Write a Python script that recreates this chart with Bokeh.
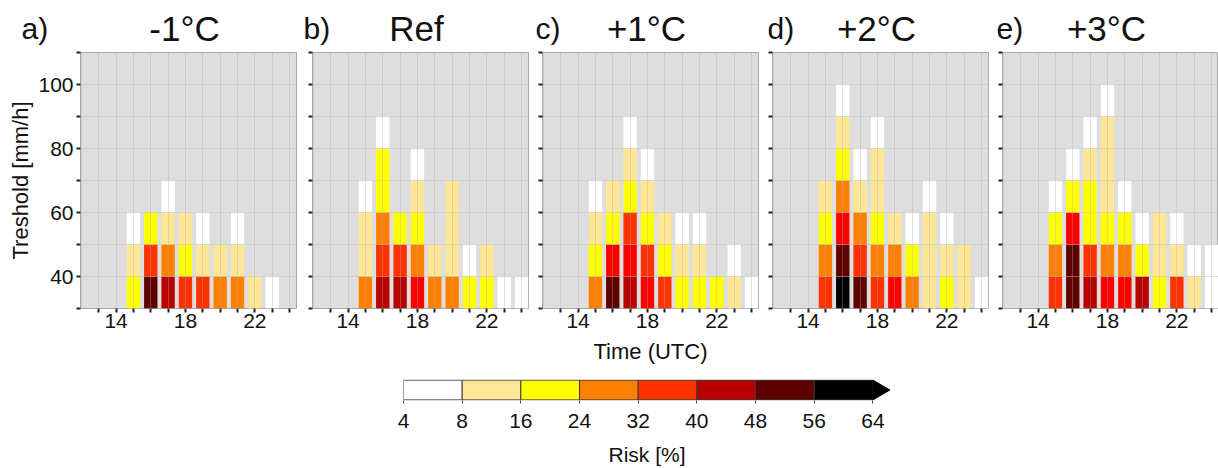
from bokeh.plotting import figure
from bokeh.models import ColumnDataSource, FixedTicker, LinearColorMapper, Range1d
from bokeh.layouts import row, column
from bokeh.transform import transform
from bokeh.core.properties import value
from bokeh.embed import file_html
from bokeh.resources import INLINE

# ---------------- data ----------------
hours = [15, 16, 17, 18, 19, 20, 21, 22, 23, 24]
thresholds = [30, 40, 50, 60, 70, 80, 90, 100]   # lower edge of each threshold class [mm/h]

panel_letters = ["a)", "b)", "c)", "d)", "e)"]
panel_titles = ["-1°C", "Ref", "+1°C", "+2°C", "+3°C"]

# risk [%] for each hour, listed from the lowest threshold class upward
risk_minus1 = [
    [20, 12, 6],
    [52, 35, 20],
    [45, 28, 12, 6],
    [35, 20, 12],
    [35, 12, 6],
    [28, 12],
    [28, 12, 6],
    [12],
    [6],
    [],
]
risk_ref = [
    [28, 12, 12, 6],
    [45, 35, 28, 20, 20, 6],
    [45, 35, 20],
    [40, 28, 20, 12, 6],
    [28, 12],
    [28, 12, 12, 12],
    [20, 6],
    [20, 12],
    [6],
    [6],
]
risk_plus1 = [
    [28, 20, 12, 6],
    [52, 40, 20, 12],
    [45, 40, 35, 20, 12, 6],
    [40, 35, 20, 12, 6],
    [35, 20, 12],
    [20, 12, 6],
    [20, 12, 6],
    [20],
    [12, 6],
    [6],
]
risk_plus2 = [
    [35, 28, 20, 12],
    [60, 52, 40, 28, 20, 12, 6],
    [52, 35, 28, 12, 6],
    [35, 28, 20, 12, 12, 6],
    [40, 28, 12],
    [28, 20, 6],
    [12, 12, 12, 6],
    [20, 12, 6],
    [12, 12],
    [6],
]
risk_plus3 = [
    [35, 28, 20, 6],
    [52, 52, 40, 20, 6],
    [45, 35, 20, 20, 12, 6],
    [40, 28, 20, 12, 12, 12, 6],
    [40, 28, 20, 6],
    [45, 20, 6],
    [20, 12, 12],
    [35, 12, 6],
    [12, 6],
    [6, 6],
]
panel_risks = [risk_minus1, risk_ref, risk_plus1, risk_plus2, risk_plus3]

risk_bounds = [4, 8, 16, 24, 32, 40, 48, 56, 64]

# colour classes (risk %) used for the tiles
class_edges = [4, 8, 16, 24, 32, 38, 42, 48, 56, 64]
class_colors = ["#FFFFFF", "#FDE696", "#FFFF00", "#FF8000", "#FF3300",
                "#FF0000", "#B80000", "#5E0000", "#000000"]

# ---------------- styling ----------------
FONT = "Liberation Sans"
TXT = "#111111"
STEP = 2
palette = []
for lo, hi, c in zip(class_edges[:-1], class_edges[1:], class_colors):
    palette += [c] * ((hi - lo) // STEP)
mapper = LinearColorMapper(palette=palette, low=class_edges[0], high=class_edges[-1],
                           high_color="#000000", low_color="#FFFFFF")

PAGE_W = 1218
PPX = 17.35          # pixels per hour
X_LO = 11.95
Y_LO, Y_HI = 30, 110
FRAME_H = 256
HEADER_H = 50
TOP_B, BOT_B = 2, 60
frame_ws = [216, 216, 216, 216, 216]
left_bs = [80, 5, 5, 5, 5]
right_bs = [11, 9, 9, 9, 0]
letter_dx = [-59, -9, -7, -5, -6]   # px from frame left
title_dx = -4                        # px from frame centre

frame_lefts = []
acc = 0
for lb, fw, rb in zip(left_bs, frame_ws, right_bs):
    frame_lefts.append(acc + lb)
    acc += lb + fw + rb

# ---------------- header (panel letters and titles) ----------------
hdr = figure(width=PAGE_W, height=HEADER_H, x_range=Range1d(0, PAGE_W), y_range=Range1d(HEADER_H, 0),
             min_border_left=0, min_border_right=0, min_border_top=0, min_border_bottom=0,
             toolbar_location=None, output_backend="svg")
hdr.axis.visible = False
hdr.grid.visible = False
hdr.outline_line_color = None
base_y = 28
hdr.text(x=[fl + dx for fl, dx in zip(frame_lefts, letter_dx)], y=[base_y] * 5, text=panel_letters,
         text_font=value(FONT), text_font_size=value("30px"), text_color=TXT,
         text_baseline="alphabetic", text_align="left")
hdr.text(x=[fl + fw / 2 + title_dx for fl, fw in zip(frame_lefts, frame_ws)], y=[base_y] * 5,
         text=panel_titles, text_font=value(FONT), text_font_size=value("35px"), text_color=TXT,
         text_baseline="alphabetic", text_align="center")

# ---------------- panels ----------------
figs = []
for i, risk in enumerate(panel_risks):
    fw = frame_ws[i]
    x_hi = X_LO + fw / PPX
    p = figure(width=left_bs[i] + fw + right_bs[i], height=TOP_B + FRAME_H + BOT_B,
               x_range=Range1d(X_LO, x_hi), y_range=Range1d(Y_LO, Y_HI),
               min_border_left=left_bs[i], min_border_right=right_bs[i],
               min_border_top=TOP_B, min_border_bottom=BOT_B,
               toolbar_location=None, output_backend="svg")
    xs, bots, tops, vals = [], [], [], []
    for h, col in zip(hours, risk):
        for t, v in zip(thresholds, col):
            xs.append(h)
            bots.append(t)
            tops.append(t + 10)
            vals.append(v)
    src = ColumnDataSource(dict(x=xs, bottom=bots, top=tops, risk=vals))
    p.vbar(x="x", bottom="bottom", top="top", width=0.77, source=src,
           fill_color=transform("risk", mapper), line_color=None)

    p.background_fill_color = "#DEDEDE"
    p.border_fill_color = "white"
    p.outline_line_color = "#A8A8A8"
    p.xgrid.ticker = FixedTicker(ticks=list(range(12, 25)))
    p.ygrid.ticker = FixedTicker(ticks=list(range(30, 111, 10)))
    for g in (p.xgrid[0], p.ygrid[0]):
        g.grid_line_color = "#B0B0B0"
        g.grid_line_alpha = 0.35
        g.grid_line_width = 1
        g.level = "overlay"

    xa = p.xaxis[0]
    xa.ticker = FixedTicker(ticks=list(range(13, 25)))
    xa.major_label_overrides = {h: (str(h) if h in (14, 18, 22) else "") for h in range(13, 25)}
    ya = p.yaxis[0]
    ya.ticker = FixedTicker(ticks=list(range(30, 111, 10)))
    if i == 0:
        ya.major_label_overrides = {t: (str(t) if t in (40, 60, 80, 100) else "") for t in range(30, 111, 10)}
        ya.axis_label = "Treshold [mm/h]"
    else:
        ya.major_label_overrides = {t: "" for t in range(30, 111, 10)}
    if i == 2:
        xa.axis_label = "Time (UTC)"
    for ax in (xa, ya):
        ax.axis_line_color = None
        ax.major_tick_out = 4
        ax.major_tick_in = 0
        ax.major_tick_line_width = 2
        ax.major_tick_line_color = "#222222"
        ax.minor_tick_line_color = None
        ax.major_label_standoff = 1
        ax.major_label_text_font = FONT
        ax.major_label_text_font_size = "21px"
        ax.major_label_text_color = TXT
        ax.axis_label_text_font = FONT
        ax.axis_label_text_font_size = "22px"
        ax.axis_label_text_font_style = "normal"
        ax.axis_label_text_color = TXT
    ya.major_label_standoff = 3
    ya.axis_label_standoff = 2
    xa.axis_label_standoff = 8
    figs.append(p)

# ---------------- colour bar ----------------
n = len(risk_bounds) - 1
CB_TOP = 11
CB_H = 21
cb_height = 468 - HEADER_H - (TOP_B + FRAME_H + BOT_B)
cb_left = 403
cb_w = 487
cb = figure(width=PAGE_W, height=cb_height, x_range=Range1d(0, n + 0.3), y_range=Range1d(-0.03, 1.03),
            min_border_left=cb_left, min_border_right=PAGE_W - cb_left - cb_w,
            min_border_top=CB_TOP, min_border_bottom=cb_height - CB_TOP - CB_H,
            toolbar_location=None, output_backend="svg")
mids = [(a + b) / 2 for a, b in zip(risk_bounds[:-1], risk_bounds[1:])]
csrc = ColumnDataSource(dict(left=list(range(n)), right=list(range(1, n + 1)), mid=mids))
cb.quad(left="left", right="right", bottom=0, top=1, source=csrc,
        fill_color=transform("mid", mapper), line_color="#3A3A3A", line_width=1)
cb.patch(x=[n, n + 0.29, n], y=[0, 0.5, 1], fill_color="#000000", line_color="#000000")
cb.background_fill_color = "white"
cb.outline_line_color = None
cb.grid.visible = False
cb.yaxis.visible = False
cax = cb.xaxis[0]
cax.ticker = FixedTicker(ticks=list(range(n + 1)))
cax.major_label_overrides = {k: str(b) for k, b in enumerate(risk_bounds)}
cax.axis_line_color = None
cax.major_tick_out = 3
cax.major_tick_in = 0
cax.major_tick_line_color = "#444444"
cax.minor_tick_line_color = None
cax.major_label_standoff = 10
cax.major_label_text_font = FONT
cax.major_label_text_font_size = "21px"
cax.major_label_text_color = TXT
cax.axis_label = "Risk [%]"
cax.axis_label_text_font = FONT
cax.axis_label_text_font_size = "21px"
cax.axis_label_text_font_style = "normal"
cax.axis_label_text_color = TXT
cax.axis_label_standoff = 12

layout = column(row(hdr, spacing=0), row(*figs, spacing=0), row(cb, spacing=0), spacing=0)
open("out.html", "w").write(file_html(layout, INLINE))
